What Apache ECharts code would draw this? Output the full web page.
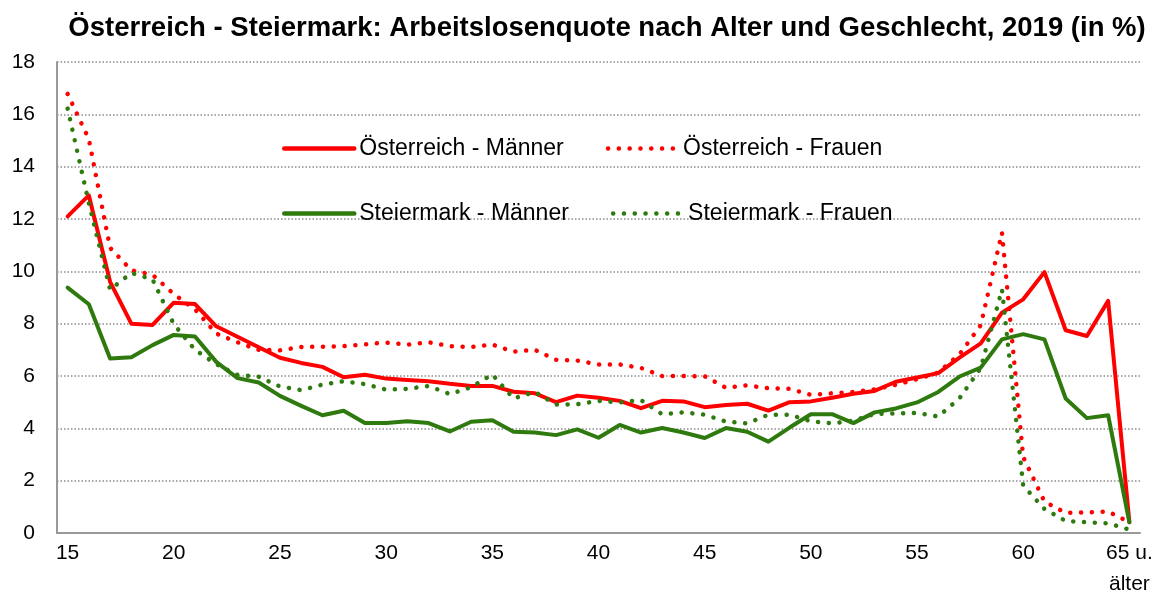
<!DOCTYPE html>
<html>
<head>
<meta charset="utf-8">
<script src="https://cdn.jsdelivr.net/npm/echarts@6/dist/echarts.min.js"></script>
<style>
  html, body { margin: 0; padding: 0; background: #fff; }
  #Root { width: 1163px; height: 600px; }
</style>
</head>
<body>
<div id="Root"></div>
<script>
// Alter 15 .. 64, dann "65 u. älter"
let ages = []
for (let a = 15; a <= 64; a++) ages.push(String(a))
ages.push("65 u.\nälter")

let atMaenner = [12.1, 12.9, 9.6, 8.0, 7.95, 8.8, 8.75, 7.9, 7.5, 7.1,
    6.7, 6.5, 6.35, 5.95, 6.05, 5.9, 5.85, 5.8, 5.7, 5.62,
    5.62, 5.4, 5.34, 5.0, 5.25, 5.17, 5.05, 4.77, 5.05, 5.03,
    4.81, 4.89, 4.94, 4.68, 5.0, 5.03, 5.17, 5.32, 5.43, 5.78,
    5.94, 6.11, 6.7, 7.25, 8.42, 8.93, 9.97, 7.75, 7.53, 8.87,
    0.41]
let atFrauen = [16.78, 15.05, 10.9, 10.04, 9.87, 9.13, 8.55, 7.62, 7.29, 7.0,
    6.98, 7.11, 7.12, 7.14, 7.21, 7.28, 7.2, 7.29, 7.14, 7.11,
    7.2, 6.93, 7.0, 6.62, 6.59, 6.44, 6.44, 6.31, 6.0, 6.0,
    5.99, 5.55, 5.64, 5.53, 5.51, 5.28, 5.34, 5.39, 5.49, 5.66,
    5.88, 6.13, 6.83, 7.94, 11.48, 2.9, 1.2, 0.77, 0.79, 0.82,
    0.41]
let stMaenner = [9.38, 8.74, 6.67, 6.72, 7.18, 7.57, 7.51, 6.54, 5.92, 5.75,
    5.24, 4.86, 4.5, 4.67, 4.2, 4.2, 4.27, 4.2, 3.88, 4.25,
    4.31, 3.87, 3.84, 3.74, 3.96, 3.64, 4.13, 3.84, 4.01, 3.84,
    3.63, 4.01, 3.87, 3.49, 4.03, 4.54, 4.54, 4.2, 4.61, 4.76,
    4.99, 5.39, 5.98, 6.32, 7.4, 7.6, 7.4, 5.14, 4.39, 4.5,
    0.41]
let stFrauen = [16.22, 12.6, 9.3, 9.94, 9.69, 7.98, 7.0, 6.45, 6.04, 5.97,
    5.6, 5.46, 5.67, 5.8, 5.69, 5.48, 5.51, 5.62, 5.31, 5.57,
    6.06, 5.14, 5.39, 4.91, 4.92, 5.05, 4.99, 5.08, 4.54, 4.61,
    4.52, 4.26, 4.19, 4.52, 4.52, 4.27, 4.19, 4.29, 4.55, 4.57,
    4.59, 4.45, 5.15, 6.3, 9.31, 1.81, 0.92, 0.46, 0.41, 0.37,
    0.13]

const RED = '#ff0000'
const GREEN = '#2e7a0e'
const FONT = 'Arial, "Liberation Sans", sans-serif'

function lineSeries(name, data, color, dotted) {
    return {
        name: name,
        type: 'line',
        data: data,
        symbol: 'none',
        smooth: false,
        itemStyle: { color: color },
        lineStyle: dotted
            ? { color: color, width: 4.5, type: [0.1, 10.7], cap: 'round' }
            : { color: color, width: 4, cap: 'round', join: 'round' }
    }
}

let chart = echarts.init(document.getElementById("Root"))
let legendBase = {
    left: 282,
    padding: 0,
    itemWidth: 70,
    itemHeight: 14,
    itemGap: 42,
    itemStyle: { color: 'rgba(0,0,0,0)', borderColor: 'rgba(0,0,0,0)', borderWidth: 0 },
    lineStyle: { width: 4.5, cap: 'round' },
    textStyle: { fontFamily: FONT, fontSize: 23, color: '#000' }
}
chart.setOption({
    animation: false,
    title: {
        text: 'Österreich - Steiermark: Arbeitslosenquote nach Alter und Geschlecht, 2019 (in %)',
        left: 602,
        top: 9,
        textAlign: 'center',
        textStyle: { fontFamily: FONT, fontSize: 27.5, fontWeight: 'bold', color: '#000' }
    },
    legend: [
        Object.assign({}, legendBase, { top: 137, data: ['Österreich - Männer', 'Österreich - Frauen'] }),
        Object.assign({}, legendBase, { top: 202, data: ['Steiermark - Männer', 'Steiermark - Frauen'] })
    ],
    grid: { left: 57, right: 23, top: 62, bottom: 66, containLabel: false },
    xAxis: {
        type: 'category',
        data: ages,
        boundaryGap: true,
        axisTick: { show: false },
        axisLine: { lineStyle: { color: '#999', width: 2 } },
        axisLabel: {
            interval: 4,
            margin: 5,
            fontFamily: FONT,
            fontSize: 21,
            lineHeight: 31,
            color: '#000'
        }
    },
    yAxis: {
        type: 'value',
        min: 0,
        max: 18,
        interval: 2,
        axisLine: { show: true, lineStyle: { color: '#999', width: 2 } },
        axisTick: { show: false },
        axisLabel: { margin: 22, fontFamily: FONT, fontSize: 21, color: '#000' },
        splitLine: { lineStyle: { color: '#8c8c8c', width: 1.5, type: [1.5, 2] } }
    },
    series: [
        lineSeries('Österreich - Männer', atMaenner, RED, false),
        lineSeries('Österreich - Frauen', atFrauen, RED, true),
        lineSeries('Steiermark - Männer', stMaenner, GREEN, false),
        lineSeries('Steiermark - Frauen', stFrauen, GREEN, true)
    ]
})
</script>
</body>
</html>
